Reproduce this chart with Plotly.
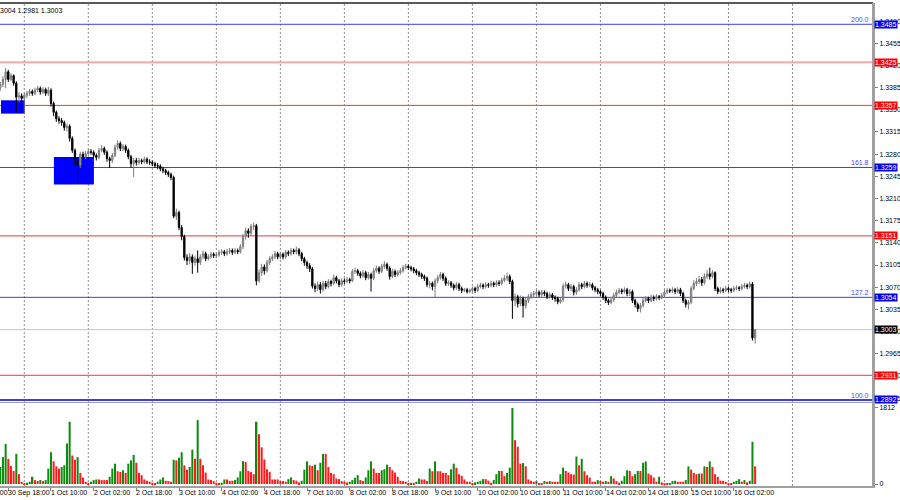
import plotly.graph_objects as go

# ---------------- DATA (hourly bars, 30 Sep 15:00 -> 16 Oct 10:00) ----------------
first_open = 1.3385

close = [
    # 30 Sep 15:00-23:00
    1.3390, 1.3398, 1.3410, 1.3398, 1.3404, 1.3392, 1.3370, 1.3372, 1.3368,
    # 1 Oct
    1.3373, 1.3376, 1.3379, 1.3376, 1.3381, 1.3384, 1.3378, 1.3382, 1.3376, 1.3381, 1.3360, 1.3346,
    1.3336, 1.3333, 1.3330, 1.3322, 1.3324, 1.3305, 1.3286, 1.3270, 1.3262, 1.3280, 1.3276, 1.3281,
    # 2 Oct
    1.3284, 1.3283, 1.3278, 1.3275, 1.3286, 1.3289, 1.3283, 1.3273, 1.3270, 1.3278, 1.3291, 1.3297,
    1.3289, 1.3292, 1.3286, 1.3276, 1.3265, 1.3270, 1.3267, 1.3270, 1.3268, 1.3272, 1.3268, 1.3267,
    # 3 Oct
    1.3265, 1.3262, 1.3261, 1.3257, 1.3254, 1.3251, 1.3248, 1.3243, 1.3182, 1.3188, 1.3164, 1.3150,
    1.3117, 1.3112, 1.3118, 1.3109, 1.3115, 1.3109, 1.3118, 1.3123, 1.3115, 1.3118, 1.3122, 1.3120,
    # 4 Oct
    1.3121, 1.3125, 1.3126, 1.3123, 1.3126, 1.3128, 1.3125, 1.3128, 1.3126, 1.3134, 1.3150, 1.3159,
    1.3155, 1.3166, 1.3167, 1.3080, 1.3093, 1.3102, 1.3096, 1.3109, 1.3115, 1.3118, 1.3123, 1.3118,
    # 7 Oct
    1.3122, 1.3118, 1.3125, 1.3123, 1.3128, 1.3126, 1.3129, 1.3123, 1.3115, 1.3109, 1.3104, 1.3099,
    1.3072, 1.3068, 1.3074, 1.3066, 1.3076, 1.3071, 1.3079, 1.3076, 1.3085, 1.3080, 1.3074, 1.3080,
    # 8 Oct
    1.3079, 1.3082, 1.3080, 1.3095, 1.3096, 1.3092, 1.3088, 1.3093, 1.3085, 1.3090, 1.3084, 1.3096,
    1.3100, 1.3095, 1.3103, 1.3106, 1.3100, 1.3087, 1.3095, 1.3090, 1.3093, 1.3096, 1.3101, 1.3103,
    # 9 Oct
    1.3101, 1.3099, 1.3096, 1.3093, 1.3090, 1.3087, 1.3084, 1.3074, 1.3076, 1.3071, 1.3080, 1.3085,
    1.3090, 1.3084, 1.3076, 1.3077, 1.3073, 1.3069, 1.3074, 1.3068, 1.3065, 1.3066, 1.3063, 1.3065,
    # 10 Oct
    1.3068, 1.3065, 1.3071, 1.3073, 1.3071, 1.3074, 1.3073, 1.3076, 1.3074, 1.3077, 1.3076, 1.3081,
    1.3084, 1.3087, 1.3079, 1.3049, 1.3055, 1.3044, 1.3052, 1.3041, 1.3049, 1.3055, 1.3058, 1.3060,
    # 11 Oct
    1.3062, 1.3058, 1.3062, 1.3060, 1.3055, 1.3058, 1.3054, 1.3052, 1.3047, 1.3050, 1.3072, 1.3074,
    1.3068, 1.3071, 1.3062, 1.3066, 1.3074, 1.3071, 1.3076, 1.3073, 1.3074, 1.3069, 1.3066, 1.3063,
    # 14 Oct
    1.3060, 1.3054, 1.3049, 1.3046, 1.3050, 1.3057, 1.3062, 1.3065, 1.3063, 1.3066, 1.3060, 1.3063,
    1.3049, 1.3043, 1.3036, 1.3041, 1.3049, 1.3052, 1.3049, 1.3054, 1.3052, 1.3055, 1.3054, 1.3057,
    # 15 Oct
    1.3062, 1.3065, 1.3064, 1.3066, 1.3063, 1.3066, 1.3060, 1.3049, 1.3043, 1.3046, 1.3068, 1.3076,
    1.3079, 1.3082, 1.3077, 1.3087, 1.3091, 1.3087, 1.3093, 1.3068, 1.3063, 1.3066, 1.3065, 1.3068,
    # 16 Oct 00:00-10:00
    1.3066, 1.3065, 1.3068, 1.3069, 1.3068, 1.3071, 1.3073, 1.3071, 1.3075, 1.2990, 1.3003,
]

high = [
    1.3394, 1.3403, 1.3416, 1.3413, 1.3408, 1.3406, 1.3395, 1.3378, 1.3376,
    1.3377, 1.3380, 1.3383, 1.3382, 1.3385, 1.3388, 1.3387, 1.3386, 1.3385, 1.3386, 1.3384, 1.3363,
    1.3349, 1.3340, 1.3337, 1.3333, 1.3328, 1.3327, 1.3308, 1.3289, 1.3274, 1.3284, 1.3284, 1.3285,
    1.3288, 1.3288, 1.3286, 1.3281, 1.3290, 1.3294, 1.3292, 1.3286, 1.3276, 1.3282, 1.3295, 1.3302,
    1.3300, 1.3296, 1.3295, 1.3289, 1.3279, 1.3274, 1.3274, 1.3274, 1.3273, 1.3276, 1.3275, 1.3272,
    1.3270, 1.3268, 1.3266, 1.3264, 1.3260, 1.3257, 1.3254, 1.3251, 1.3246, 1.3194, 1.3191, 1.3168,
    1.3153, 1.3122, 1.3124, 1.3122, 1.3120, 1.3128, 1.3122, 1.3128, 1.3126, 1.3122, 1.3126, 1.3125,
    1.3125, 1.3129, 1.3130, 1.3129, 1.3130, 1.3132, 1.3131, 1.3132, 1.3131, 1.3138, 1.3154, 1.3164,
    1.3163, 1.3170, 1.3172, 1.3170, 1.3098, 1.3107, 1.3106, 1.3113, 1.3119, 1.3122, 1.3127, 1.3126,
    1.3126, 1.3125, 1.3129, 1.3128, 1.3132, 1.3131, 1.3134, 1.3132, 1.3126, 1.3118, 1.3112, 1.3108,
    1.3102, 1.3076, 1.3079, 1.3078, 1.3080, 1.3080, 1.3083, 1.3082, 1.3090, 1.3088, 1.3083, 1.3084,
    1.3084, 1.3086, 1.3085, 1.3099, 1.3101, 1.3099, 1.3095, 1.3097, 1.3096, 1.3094, 1.3093, 1.3100,
    1.3104, 1.3103, 1.3107, 1.3111, 1.3109, 1.3103, 1.3099, 1.3098, 1.3097, 1.3100, 1.3105, 1.3107,
    1.3106, 1.3104, 1.3102, 1.3099, 1.3096, 1.3093, 1.3090, 1.3087, 1.3080, 1.3079, 1.3084, 1.3089,
    1.3094, 1.3093, 1.3087, 1.3081, 1.3080, 1.3076, 1.3078, 1.3077, 1.3071, 1.3069, 1.3069, 1.3068,
    1.3071, 1.3071, 1.3075, 1.3077, 1.3076, 1.3078, 1.3077, 1.3080, 1.3079, 1.3081, 1.3081, 1.3085,
    1.3089, 1.3093, 1.3090, 1.3082, 1.3060, 1.3058, 1.3057, 1.3055, 1.3053, 1.3059, 1.3062, 1.3064,
    1.3066, 1.3065, 1.3066, 1.3065, 1.3063, 1.3062, 1.3061, 1.3057, 1.3055, 1.3054, 1.3076, 1.3079,
    1.3077, 1.3075, 1.3074, 1.3070, 1.3078, 1.3077, 1.3080, 1.3079, 1.3078, 1.3077, 1.3072, 1.3069,
    1.3066, 1.3063, 1.3057, 1.3052, 1.3054, 1.3061, 1.3066, 1.3069, 1.3068, 1.3070, 1.3069, 1.3067,
    1.3066, 1.3052, 1.3046, 1.3045, 1.3053, 1.3056, 1.3055, 1.3058, 1.3057, 1.3059, 1.3058, 1.3061,
    1.3066, 1.3069, 1.3068, 1.3070, 1.3069, 1.3070, 1.3069, 1.3063, 1.3052, 1.3050, 1.3072, 1.3081,
    1.3084, 1.3088, 1.3086, 1.3092, 1.3097, 1.3101, 1.3097, 1.3095, 1.3071, 1.3070, 1.3069, 1.3072,
    1.3071, 1.3069, 1.3072, 1.3073, 1.3072, 1.3075, 1.3077, 1.3076, 1.3079, 1.3078, 1.3004,
]

low = [
    1.3380, 1.3386, 1.3384, 1.3394, 1.3395, 1.3388, 1.3346, 1.3362, 1.3345,
    1.3344, 1.3369, 1.3372, 1.3372, 1.3373, 1.3378, 1.3374, 1.3375, 1.3372, 1.3372, 1.3355, 1.3340,
    1.3331, 1.3328, 1.3325, 1.3317, 1.3316, 1.3300, 1.3282, 1.3262, 1.3234, 1.3258, 1.3271, 1.3272,
    1.3277, 1.3279, 1.3274, 1.3270, 1.3272, 1.3283, 1.3279, 1.3268, 1.3258, 1.3266, 1.3275, 1.3287,
    1.3285, 1.3285, 1.3282, 1.3272, 1.3258, 1.3244, 1.3262, 1.3263, 1.3264, 1.3265, 1.3264, 1.3263,
    1.3261, 1.3258, 1.3256, 1.3253, 1.3250, 1.3247, 1.3244, 1.3239, 1.3179, 1.3176, 1.3160, 1.3144,
    1.3112, 1.3105, 1.3106, 1.3091, 1.3104, 1.3093, 1.3105, 1.3114, 1.3111, 1.3112, 1.3115, 1.3116,
    1.3116, 1.3118, 1.3121, 1.3119, 1.3120, 1.3122, 1.3121, 1.3122, 1.3122, 1.3123, 1.3130, 1.3145,
    1.3148, 1.3151, 1.3160, 1.3073, 1.3077, 1.3088, 1.3090, 1.3093, 1.3105, 1.3111, 1.3114, 1.3114,
    1.3114, 1.3114, 1.3115, 1.3119, 1.3120, 1.3122, 1.3122, 1.3119, 1.3111, 1.3104, 1.3099, 1.3094,
    1.3068, 1.3062, 1.3064, 1.3060, 1.3063, 1.3067, 1.3068, 1.3071, 1.3073, 1.3076, 1.3070, 1.3071,
    1.3075, 1.3076, 1.3076, 1.3078, 1.3091, 1.3088, 1.3084, 1.3085, 1.3081, 1.3082, 1.3063, 1.3081,
    1.3093, 1.3091, 1.3092, 1.3099, 1.3096, 1.3082, 1.3084, 1.3086, 1.3087, 1.3090, 1.3093, 1.3098,
    1.3097, 1.3095, 1.3092, 1.3089, 1.3086, 1.3083, 1.3080, 1.3070, 1.3068, 1.3065, 1.3054, 1.3076,
    1.3082, 1.3080, 1.3072, 1.3072, 1.3069, 1.3065, 1.3066, 1.3064, 1.3061, 1.3062, 1.3060, 1.3061,
    1.3062, 1.3061, 1.3062, 1.3068, 1.3067, 1.3068, 1.3069, 1.3070, 1.3070, 1.3071, 1.3072, 1.3073,
    1.3078, 1.3080, 1.3075, 1.3020, 1.3040, 1.3038, 1.3040, 1.3022, 1.3036, 1.3045, 1.3051, 1.3054,
    1.3056, 1.3054, 1.3055, 1.3056, 1.3051, 1.3052, 1.3050, 1.3047, 1.3043, 1.3044, 1.3047, 1.3068,
    1.3064, 1.3064, 1.3057, 1.3058, 1.3063, 1.3067, 1.3068, 1.3069, 1.3070, 1.3065, 1.3062, 1.3059,
    1.3056, 1.3050, 1.3045, 1.3042, 1.3043, 1.3047, 1.3054, 1.3059, 1.3059, 1.3060, 1.3056, 1.3056,
    1.3045, 1.3038, 1.3031, 1.3030, 1.3038, 1.3046, 1.3045, 1.3046, 1.3048, 1.3049, 1.3050, 1.3051,
    1.3054, 1.3059, 1.3061, 1.3061, 1.3059, 1.3060, 1.3056, 1.3045, 1.3038, 1.3035, 1.3043, 1.3065,
    1.3072, 1.3075, 1.3072, 1.3074, 1.3083, 1.3082, 1.3084, 1.3064, 1.3059, 1.3060, 1.3061, 1.3062,
    1.3062, 1.3061, 1.3062, 1.3065, 1.3064, 1.3065, 1.3068, 1.3067, 1.3068, 1.2986, 1.2981,
]

volume = [
    406, 640, 952, 601, 429, 312, 718, 234, 55, 16,
    31, 55, 172, 94, 70, 94, 70, 94, 367, 757,
    539, 421, 367, 406, 445, 967, 1482, 679, 577, 640,
    265, 156, 55, 31, 55, 94, 109, 109, 94, 94,
    94, 172, 367, 484, 304, 289, 328, 265, 484, 562,
    694, 507, 265, 211, 109, 78, 55, 31, 16, 55,
    109, 156, 78, 70, 55, 577, 562, 624, 757, 445,
    343, 406, 819, 601, 1521, 601, 445, 273, 109, 94,
    70, 31, 16, 31, 109, 109, 78, 78, 94, 156,
    304, 546, 523, 312, 289, 234, 1482, 1186, 874, 585,
    351, 289, 109, 109, 109, 70, 70, 55, 117, 156,
    94, 78, 39, 78, 343, 539, 445, 429, 460, 328,
    507, 718, 718, 406, 265, 234, 133, 117, 70, 55,
    39, 55, 94, 148, 211, 94, 70, 156, 328, 539,
    367, 265, 265, 328, 351, 460, 406, 328, 273, 172,
    78, 70, 55, 16, 31, 31, 55, 133, 109, 109,
    70, 367, 304, 539, 304, 304, 265, 265, 211,
    351, 484, 390, 234, 195, 109, 55, 55, 16, 39,
    55, 78, 117, 117, 78, 31, 94, 234, 312, 312,
    187, 265, 390, 1810, 1045, 889, 484, 499, 421, 109,
    78, 55, 70, 8, 8, 70, 55, 70, 55, 55,
    55, 234, 390, 312, 273, 234, 226, 655, 445, 601,
    304, 211, 156, 55, 55, 94, 70, 55, 70, 55,
    187, 133, 70, 31, 78, 187, 328, 312, 187, 234,
    312, 312, 507, 539, 250, 211, 156, 55, 172, 39,
    16, 8, 16, 70, 78, 55, 55, 55, 94, 421,
    343, 265, 234, 250, 250, 421, 406, 539, 406, 234,
    172, 78, 78, 55, 16, 16, 55, 78, 117, 55,
    94, 39, 78, 1006, 421,
]

# time-axis labels (bar index of each labelled hour)
label_idx = [3, 19, 35, 51, 67, 83, 99, 115, 131, 147, 163, 179, 195, 211, 227, 243, 259, 275]
label_txt = ["30 Sep 18:00", "1 Oct 10:00", "2 Oct 02:00", "2 Oct 18:00", "3 Oct 10:00",
             "4 Oct 02:00", "4 Oct 18:00", "7 Oct 10:00", "8 Oct 02:00", "8 Oct 18:00",
             "9 Oct 10:00", "10 Oct 02:00", "10 Oct 18:00", "11 Oct 10:00", "14 Oct 02:00",
             "14 Oct 18:00", "15 Oct 10:00", "16 Oct 02:00"]
prev_label_idx = -13
prev_label_txt = "30 Sep 02:00"

# bar index where each trading day starts (vertical grid)
day_starts = [9, 33, 57, 81, 105, 129, 153, 177, 201, 225, 249, 273, 297]

# horizontal levels
level_prices = [1.3485, 1.3425, 1.3357, 1.3259, 1.3151, 1.3054, 1.2931, 1.2892]
level_kinds = ["blue", "pink", "red", "blue", "red", "blue", "red", "blue"]
fib_prices = [1.3485, 1.3259, 1.3054, 1.2892]
fib_texts = ["200.0", "161.8", "127.2", "100.0"]
last_price = 1.3003
last_bar_text = "3004 1.2981 1.3003"
vol_max_label = 1812

# blue zones: (x0 bar, x1 bar, low price, high price)
zones = [(0.26, 9.26, 1.3344, 1.3365), (20.1, 35.1, 1.3232, 1.32756)]

# ---------------- FIGURE ----------------
N = len(close)
assert len(high) == N and len(low) == N and len(volume) == N, (N, len(high), len(low), len(volume))
xs = list(range(N))
opens = [first_open] + close[:-1]

GREEN, RED = "#0b8a0b", "#ff1a1a"
vol_colors = [GREEN if (i == 0 or volume[i] > volume[i - 1]) else RED for i in range(N)]

XMIN, XMAX = -0.11, 327.2
FONT = "Liberation Sans"

fig = go.Figure()
fig.add_trace(go.Candlestick(
    x=xs, open=opens, high=high, low=low, close=close,
    increasing=dict(line=dict(color="#7a7a7a", width=1), fillcolor="#b4b4b4"),
    decreasing=dict(line=dict(color="#000000", width=1), fillcolor="#000000"),
    whiskerwidth=0, hoverinfo="skip", xaxis="x", yaxis="y"))
fig.add_trace(go.Bar(
    x=xs, y=volume, width=0.75, marker=dict(color=vol_colors, line=dict(width=0)),
    hoverinfo="skip", xaxis="x", yaxis="y2"))

shapes = []
for (x0, x1, y0, y1) in zones:
    shapes.append(dict(type="rect", xref="x", yref="y", x0=x0, x1=x1, y0=y0, y1=y1,
                       fillcolor="#0000ff", line=dict(width=0), layer="below"))
for d in day_starts:
    shapes.append(dict(type="line", xref="x", yref="paper", x0=d, x1=d, y0=0, y1=1,
                       line=dict(color="#8c8c8c", width=1, dash="2px,2px"), layer="below"))
line_styles = {"blue": ("#3c3cf0", 1), "red": ("#e83c3c", 1), "pink": ("#ffa8a8", 2)}
for p, k in zip(level_prices, level_kinds):
    c, w = line_styles[k]
    if p == level_prices[-1]:
        w = 2
    shapes.append(dict(type="line", xref="paper", yref="y", x0=0, x1=1, y0=p, y1=p,
                       line=dict(color=c, width=w), layer="below"))
shapes.append(dict(type="line", xref="paper", yref="y", x0=0, x1=1, y0=last_price, y1=last_price,
                   line=dict(color="#c4c4c4", width=1), layer="below"))
# pane separator, top border, right axis line
shapes.append(dict(type="line", xref="paper", yref="paper", x0=0, x1=1, y0=0.1728, y1=0.1728,
                   line=dict(color="#a0a0a0", width=1)))
shapes.append(dict(type="line", xref="paper", yref="paper", x0=0, x1=1, y0=1, y1=1,
                   line=dict(color="#5a5a5a", width=2)))
shapes.append(dict(type="line", xref="paper", yref="paper", x0=1, x1=1, y0=0, y1=1,
                   line=dict(color="#a0a0a0", width=2)))

annotations = []
# price tags at right
tag_bg = {"blue": "#0000ee", "red": "#ff0000", "pink": "#ff0000"}
for p, k in zip(level_prices, level_kinds):
    annotations.append(dict(xref="paper", yref="y", x=1, y=p, xanchor="left", yanchor="middle",
                            xshift=1, text=f"{p:.4f}", showarrow=False, bgcolor=tag_bg[k],
                            borderpad=0, font=dict(family=FONT, size=7, color="white")))
annotations.append(dict(xref="paper", yref="y", x=1, y=last_price, xanchor="left", yanchor="middle",
                        xshift=1, text=f"{last_price:.4f}", showarrow=False, bgcolor="#000000",
                        borderpad=0, font=dict(family=FONT, size=7, color="white")))
for p, t in zip(fib_prices, fib_texts):
    annotations.append(dict(xref="paper", yref="y", x=1, y=p, xanchor="right", yanchor="bottom",
                            xshift=-2, yshift=-1, text=t, showarrow=False,
                            font=dict(family=FONT, size=7, color="#4848ff")))
# time labels
for i, t in zip(label_idx, label_txt):
    annotations.append(dict(xref="x", yref="paper", x=i, y=0, xanchor="left", yanchor="top",
                            yshift=-1, xshift=-2, text=t, showarrow=False,
                            font=dict(family=FONT, size=7, color="black")))
annotations.append(dict(xref="paper", yref="paper", x=(prev_label_idx - XMIN) / (XMAX - XMIN), y=0,
                        xanchor="left", yanchor="top", yshift=-1, xshift=-2, text=prev_label_txt,
                        showarrow=False, font=dict(family=FONT, size=7, color="black")))
annotations.append(dict(xref="paper", yref="paper", x=0, y=1, xanchor="left", yanchor="top",
                        xshift=-2, yshift=-2, text=last_bar_text, showarrow=False,
                        font=dict(family=FONT, size=7, color="black")))

fig.update_layout(
    width=900, height=500, margin=dict(l=0, r=27, t=3, b=14, autoexpand=False),
    paper_bgcolor="white", plot_bgcolor="white", showlegend=False,
    font=dict(family=FONT, size=7, color="black"),
    xaxis=dict(domain=[0, 1], range=[XMIN, XMAX], anchor="y2", rangeslider=dict(visible=False),
               showgrid=False, zeroline=False, showticklabels=False, tickvals=label_idx,
               ticks="outside", ticklen=3, tickcolor="#808080",
               showline=True, linecolor="#a0a0a0", linewidth=2),
    yaxis=dict(domain=[0.176, 1], range=[1.28904, 1.35186], side="right", anchor="x",
               tick0=1.2895, dtick=0.0035, tickformat=".4f", ticks="outside", ticklen=3,
               tickcolor="#808080", showgrid=False, zeroline=False,
               showline=True, linecolor="#a0a0a0", linewidth=2,
               tickfont=dict(family=FONT, size=7, color="black")),
    yaxis2=dict(domain=[0, 0.1698], range=[-47, 1906], side="right", anchor="x",
                tickvals=[0, vol_max_label], ticktext=["0", str(vol_max_label)],
                ticks="outside", ticklen=3, tickcolor="#808080", showgrid=False, zeroline=False,
                showline=True, linecolor="#a0a0a0", linewidth=2,
                tickfont=dict(family=FONT, size=7, color="black")),
    shapes=shapes, annotations=annotations,
)

fig.write_html("out.html", config={"displayModeBar": False})

# remove the default page margin so the 900x500 figure sits at the window's top-left corner
with open("out.html", "r", encoding="utf-8") as f:
    html = f.read()
html = html.replace("<head>", "<head><style>html,body{margin:0;padding:0;overflow:hidden;}</style>", 1)
with open("out.html", "w", encoding="utf-8") as f:
    f.write(html)
